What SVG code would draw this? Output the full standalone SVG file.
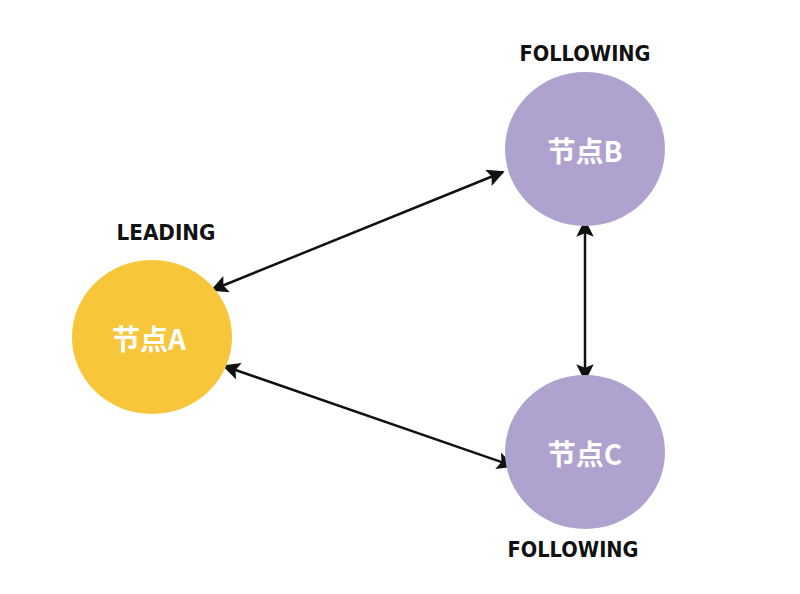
<svg xmlns="http://www.w3.org/2000/svg" width="800" height="594" viewBox="0 0 800 594">
<style>
.lbl{font-family:"DejaVu Sans","Liberation Sans",sans-serif;font-size:21px;font-weight:600;fill:#111;text-anchor:middle}
.nt{font-family:"Noto Sans CJK SC","Noto Sans",sans-serif;font-size:28px;font-weight:bold;fill:#fff;text-anchor:middle}
.edge{stroke:#111;stroke-width:2.5;fill:none;marker-start:url(#ah);marker-end:url(#ah)}
</style>
<defs>
<marker id="ah" viewBox="0 0 10 10" refX="9" refY="5" markerWidth="7" markerHeight="7" orient="auto-start-reverse" markerUnits="strokeWidth">
<path d="M0,0 L10,5 L0,10 L2,5 Z" fill="#111"/>
</marker>
</defs>
<rect width="800" height="594" fill="#fff"/>
<g id="connectors">
<line class="edge" x1="212" y1="290" x2="503" y2="172"/>
<line class="edge" x1="224" y1="366" x2="513" y2="466"/>
<line class="edge" x1="585" y1="221" x2="585" y2="380"/>
</g>
<g id="nodeA">
<ellipse cx="152" cy="337" rx="80" ry="77" fill="#F7C63B"/>
<text class="nt" x="149" y="350">节点A</text>
<text class="lbl" x="166" y="240" textLength="99" lengthAdjust="spacingAndGlyphs">LEADING</text>
</g>
<g id="nodeB">
<ellipse cx="585" cy="149" rx="80" ry="77" fill="#B0A2CF"/>
<text class="nt" x="585" y="162">节点B</text>
<text class="lbl" x="585" y="61" textLength="131" lengthAdjust="spacingAndGlyphs">FOLLOWING</text>
</g>
<g id="nodeC">
<ellipse cx="585" cy="452" rx="80" ry="77" fill="#B0A2CF"/>
<text class="nt" x="585" y="465">节点C</text>
<text class="lbl" x="573" y="557" textLength="131" lengthAdjust="spacingAndGlyphs">FOLLOWING</text>
</g>
</svg>
